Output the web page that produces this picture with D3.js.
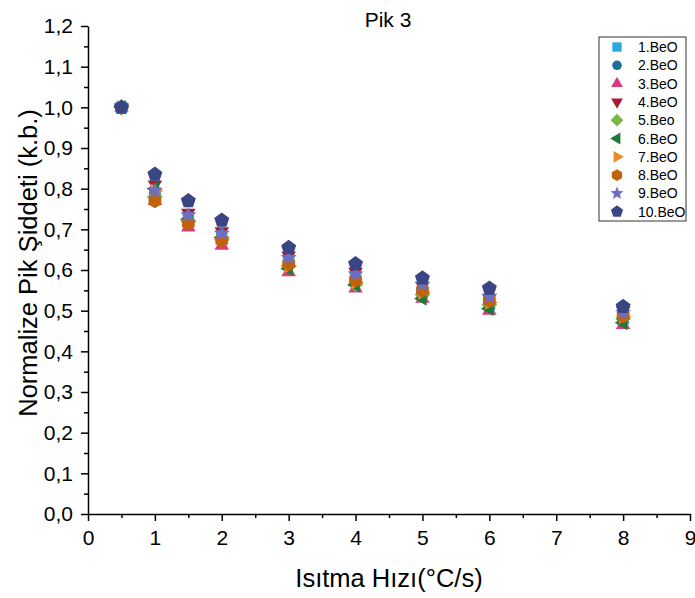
<!DOCTYPE html>
<html><head><meta charset="utf-8">
<script src="https://cdn.jsdelivr.net/npm/d3@7/dist/d3.min.js"></script>
<style>body{margin:0;background:#fff}svg{display:block;font-family:"Liberation Sans",Arial,sans-serif}</style>
</head><body>
<svg id="c" width="695" height="598"></svg>
<script>
const xVals = [0.5, 1, 1.5, 2, 3, 4, 5, 6, 8];
const seriesNames = ["1.BeO","2.BeO","3.BeO","4.BeO","5.Beo","6.BeO","7.BeO","8.BeO","9.BeO","10.BeO"];
const s1  = [1.0, 0.790, 0.725, 0.680, 0.620, 0.580, 0.545, 0.515, 0.480];
const s2  = [1.0, 0.785, 0.720, 0.675, 0.615, 0.575, 0.540, 0.510, 0.478];
const s3  = [1.0, 0.770, 0.705, 0.660, 0.595, 0.555, 0.530, 0.500, 0.465];
const s4  = [1.0, 0.810, 0.740, 0.695, 0.635, 0.595, 0.560, 0.530, 0.500];
const s5  = [1.0, 0.780, 0.720, 0.675, 0.610, 0.565, 0.540, 0.515, 0.480];
const s6  = [1.0, 0.800, 0.725, 0.680, 0.603, 0.563, 0.530, 0.505, 0.470];
const s7  = [1.0, 0.795, 0.720, 0.680, 0.610, 0.570, 0.545, 0.520, 0.485];
const s8  = [1.0, 0.770, 0.715, 0.673, 0.615, 0.575, 0.550, 0.525, 0.487];
const s9  = [1.0, 0.795, 0.735, 0.690, 0.630, 0.590, 0.565, 0.535, 0.495];
const s10 = [1.0, 0.835, 0.770, 0.722, 0.655, 0.615, 0.580, 0.555, 0.510];
const seriesValues = [s1,s2,s3,s4,s5,s6,s7,s8,s9,s10];
const colors = ["#29abe2","#1b6f96","#da3a7e","#a51d32","#79b547","#1f7a3a","#e98a2c","#c2620c","#6d6ec1","#3a4584"];
const xTicks = [0,1,2,3,4,5,6,7,8,9];
const yTicks = [0,0.1,0.2,0.3,0.4,0.5,0.6,0.7,0.8,0.9,1.0,1.1,1.2];
const title = "Pik 3";
const xTitle = "Isıtma Hızı(°C/s)";
const yTitle = "Normalize Pik Şiddeti (k.b.)";

const svg = d3.select("#c");
const x = d3.scaleLinear().domain([0,9]).range([88,690]);
const y = d3.scaleLinear().domain([0,1.2]).range([514,26]);
const fmt = v => d3.format(".1f")(v).replace(".", ",");

function starPath(r){const p=[];for(let i=0;i<10;i++){const a=-Math.PI/2+i*Math.PI/5;const rr=i%2?r*0.45:r;p.push([rr*Math.cos(a),rr*Math.sin(a)]);}return "M"+p.map(d=>d.join(",")).join("L")+"Z";}
function polyPath(n,r,rot){const p=[];for(let i=0;i<n;i++){const a=rot+i*2*Math.PI/n;p.push([r*Math.cos(a),r*Math.sin(a)]);}return "M"+p.map(d=>d.join(",")).join("L")+"Z";}
const triPath = (r,dir) => polyPath(3,r,dir);
const shapes = [
  s=>`M${-5.5*s},${-5.5*s}h${11*s}v${11*s}h${-11*s}Z`,
  s=>d3.symbol(d3.symbolCircle, 100*s*s)(),
  s=>triPath(8*s,-Math.PI/2),
  s=>triPath(8*s,Math.PI/2),
  s=>polyPath(4,7.5*s,-Math.PI/2),
  s=>triPath(8*s,Math.PI),
  s=>triPath(8*s,0),
  s=>polyPath(6,7*s,-Math.PI/2),
  s=>starPath(8*s),
  s=>polyPath(5,7.5*s,-Math.PI/2)
];

const gx = svg.append("g").attr("transform",`translate(0,${y(0)})`)
  .call(d3.axisBottom(x).tickValues(xTicks).tickSize(7).tickSizeOuter(0).tickFormat(d3.format("d")));
gx.select(".domain").attr("stroke","#000").attr("stroke-width",1.5);
gx.selectAll(".tick line").attr("stroke-width",1.5);
gx.selectAll("text").attr("font-size",21).attr("dy","0.98em").attr("fill","#000");
svg.append("g").attr("transform",`translate(0,${y(0)})`)
  .call(d3.axisBottom(x).tickValues(d3.range(0.5,9,1)).tickSize(4).tickFormat(""))
  .call(g=>{g.select(".domain").remove();g.selectAll("line").attr("stroke-width",1.5);});

const gy = svg.append("g").attr("transform",`translate(${x(0)},0)`)
  .call(d3.axisLeft(y).tickValues(yTicks).tickSize(7).tickSizeOuter(0).tickFormat(fmt));
gy.select(".domain").attr("stroke","#000").attr("stroke-width",1.5);
gy.selectAll(".tick line").attr("stroke-width",1.5);
gy.selectAll("text").attr("font-size",21).attr("fill","#000").attr("dx","-5px");
svg.append("g").attr("transform",`translate(${x(0)},0)`)
  .call(d3.axisLeft(y).tickValues(d3.range(0.05,1.2,0.1)).tickSize(4).tickFormat(""))
  .call(g=>{g.select(".domain").remove();g.selectAll("line").attr("stroke-width",1.5);});

svg.append("text").attr("x",388).attr("y",27).attr("text-anchor","middle").attr("font-size",21).text(title);
svg.append("text").attr("x",389).attr("y",587).attr("text-anchor","middle").attr("font-size",25.5).text(xTitle);
svg.append("text").attr("transform",`translate(37,263) rotate(-90)`).attr("text-anchor","middle").attr("font-size",25.5).text(yTitle);

seriesValues.forEach((vals,i)=>{
  svg.append("g").selectAll("path").data(vals).join("path")
    .attr("transform",(d,j)=>`translate(${x(xVals[j])},${y(d)})`)
    .attr("d",shapes[i](1.05))
    .attr("fill",colors[i]);
});

const lg = svg.append("g");
lg.append("rect").attr("x",599).attr("y",37).attr("width",87).attr("height",184)
  .attr("fill","#fff").attr("stroke","#333").attr("stroke-width",1);
seriesNames.forEach((n,i)=>{
  const yy = 47 + i*18.3;
  lg.append("path").attr("transform",`translate(617,${yy})`).attr("d",shapes[i](0.85)).attr("fill",colors[i]);
  lg.append("text").attr("x",638).attr("y",yy+5).attr("font-size",14).text(n);
});
</script>
</body></html>
